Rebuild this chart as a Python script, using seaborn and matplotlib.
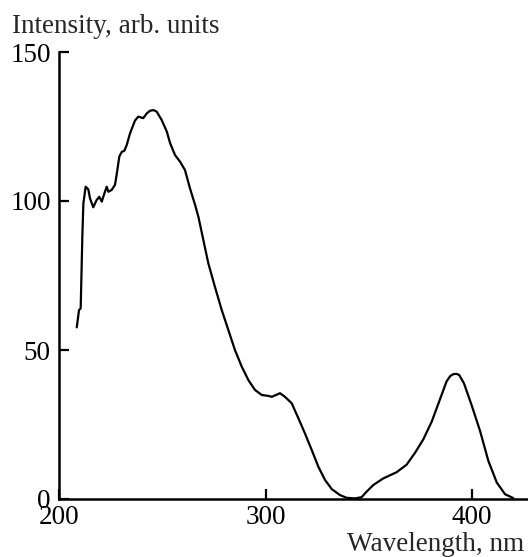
import matplotlib
matplotlib.use("Agg")
import matplotlib.pyplot as plt
import seaborn as sns
import pandas as pd

wavelength = [208.6, 209.7, 210.5, 211.3, 211.8, 212.9, 214.2, 215.0, 216.6, 218.2,
              219.5, 220.7, 222.0, 223.1, 223.9, 225.5, 227.1, 227.9, 229.2, 230.4,
              231.6, 232.8, 234.4, 236.8, 238.4, 240.8, 242.5, 244.1, 245.7, 247.3,
              249.7, 252.2, 253.8, 256.2, 258.6, 261.0, 263.4, 265.9, 267.5, 269.9,
              272.3, 275.5, 278.8, 282.0, 285.2, 288.5, 291.7, 294.9, 298.2, 301.4,
              303.0, 305.1, 307.0, 309.4, 312.7, 315.9, 319.1, 322.4, 325.6, 328.8,
              332.1, 336.1, 339.3, 343.3, 346.5, 349.0, 352.2, 357.0, 363.5, 368.3,
              372.4, 376.4, 380.5, 384.5, 387.7, 389.5, 391.0, 392.5, 393.8, 396.1,
              399.8, 403.9, 407.9, 412.0, 416.0, 420.0]
intensity = [57.6, 63.4, 64.0, 88.0, 99.2, 104.8, 103.9, 100.9, 97.9, 100.3,
             101.4, 99.8, 102.6, 104.8, 103.1, 103.7, 105.4, 108.7, 114.9, 116.5,
             116.8, 118.8, 122.7, 127.0, 128.3, 127.8, 129.4, 130.3, 130.5, 130.0,
             127.2, 123.3, 119.4, 115.4, 113.2, 110.4, 104.3, 98.7, 94.7, 86.9,
             79.1, 71.2, 63.4, 56.7, 50.0, 44.4, 39.9, 36.6, 34.9, 34.6,
             34.3, 34.9, 35.5, 34.3, 32.1, 27.1, 22.0, 16.4, 10.8, 6.4,
             3.3, 1.3, 0.4, 0.2, 0.6, 2.5, 4.7, 6.9, 9.0, 11.5,
             15.5, 20.0, 26.0, 33.5, 39.5, 41.3, 41.9, 42.0, 41.6, 38.8,
             31.5, 22.8, 12.8, 5.5, 1.6, 0.3]

x_ticks = [200, 300, 400]
y_ticks = [0, 50, 100, 150]

sns.set_style("ticks")
plt.rcParams['font.family'] = ['Liberation Serif', 'DejaVu Serif']

df = pd.DataFrame({"wl": wavelength, "I": intensity})

fig = plt.figure(figsize=(5.28, 5.57), dpi=100)
ax = fig.add_axes([59/528, 1-499/557, 1-59/528, (499-52)/557])
sns.lineplot(data=df, x="wl", y="I", ax=ax, color="black", linewidth=1.6)

ax.set_xlim(200, 427.1)
ax.set_ylim(0, 150)
ax.set_xticks(x_ticks)
ax.set_yticks(y_ticks)
ax.set_xlabel("")
ax.set_ylabel("")
sns.despine(ax=ax)
for s in ["left", "bottom"]:
    ax.spines[s].set_linewidth(1.8)
    ax.spines[s].set_color("black")
ax.tick_params(axis="both", direction="in", length=7, width=1.6, colors="black",
               labelsize=19.5)
ax.tick_params(axis="x", pad=4)
ax.tick_params(axis="y", pad=6)

fig.text(12/528, 1-33/557, "Intensity, arb. units", fontsize=19.5, ha="left", va="baseline")
fig.text(524/528, 1-551/557, "Wavelength, nm", fontsize=19.5, ha="right", va="baseline")

fig.savefig("out.png", dpi=100)
